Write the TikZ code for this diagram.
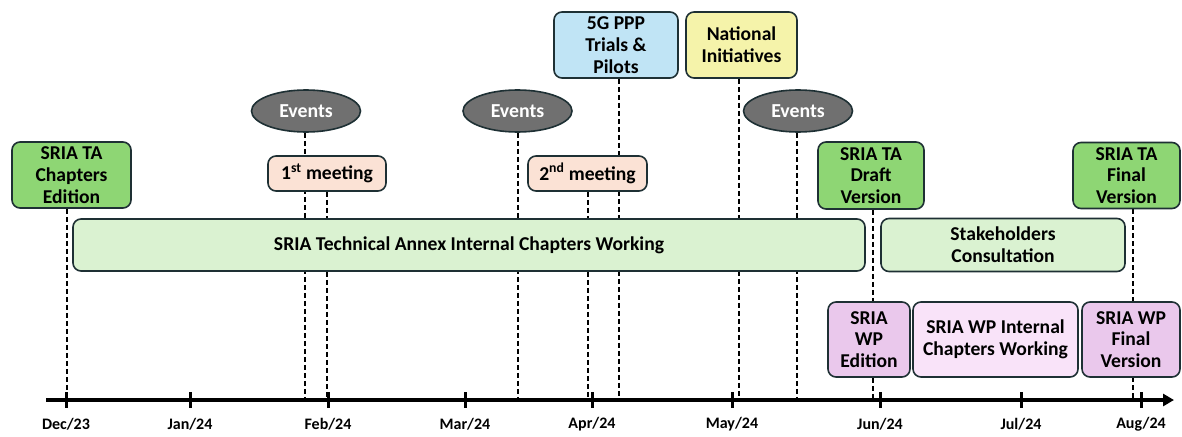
\documentclass[tikz,border=0pt]{standalone}
\usepackage{fontspec}
\setmainfont{Carlito}
\usetikzlibrary{shapes.geometric,backgrounds,arrows.meta}
\definecolor{bordc}{RGB}{30,48,52}
\definecolor{tagreen}{RGB}{142,214,116}
\definecolor{bargreen}{RGB}{218,242,209}
\definecolor{peach}{RGB}{251,226,213}
\definecolor{lblue}{RGB}{192,228,245}
\definecolor{lyellow}{RGB}{245,243,170}
\definecolor{evgray}{RGB}{112,112,112}
\definecolor{pinkd}{RGB}{234,200,236}
\definecolor{pinkl}{RGB}{249,227,249}
\begin{document}
\begin{tikzpicture}[x=1pt,y=-1pt,
  box/.style={draw=bordc, line width=1.6pt, rounded corners=8pt, align=center, inner sep=0pt,
    font=\bfseries\fontsize{19.6}{21.8}\selectfont, text=black},
  evnode/.style={ellipse, draw=bordc, fill=evgray, line width=1.6pt, inner sep=0pt,
    minimum width=109, minimum height=42, font=\bfseries\fontsize{19.8}{22}\selectfont, text=white},
  dline/.style={draw=black, line width=1.4pt, dash pattern=on 5pt off 3pt},
  axisline/.style={line width=3.4pt, -{Triangle[length=11pt,width=12pt]}},
  tickmark/.style={line width=3pt},
  lab/.style={font=\bfseries\fontsize{16}{18}\selectfont, inner sep=0pt}]
\useasboundingbox (0,0) rectangle (1182,436);

% boxes
\node[box, fill=tagreen, minimum width=119, minimum height=66] (ta1) at (71.5,175) {SRIA TA\\Chapters\\Edition};
\node[evnode] (ev1) at (306,111) {Events};
\node[box, fill=peach, minimum width=118, minimum height=35] (m1) at (327,173.5) {1\textsuperscript{st} meeting};
\node[evnode] (ev2) at (517.5,111) {Events};
\node[box, fill=peach, minimum width=119, minimum height=35] (m2) at (587.5,173.5) {2\textsuperscript{nd} meeting};
\node[box, fill=lblue, minimum width=124, minimum height=66] (g5) at (616,45) {5G PPP\\Trials \&\\Pilots};
\node[box, fill=lyellow, minimum width=111, minimum height=66] (ni) at (741.5,45) {National\\Initiatives};
\node[evnode] (ev3) at (798,111) {Events};
\node[box, fill=tagreen, minimum width=106, minimum height=67] (draft) at (871,175.5) {SRIA TA\\Draft\\Version};
\node[box, fill=tagreen, minimum width=107, minimum height=66] (tafin) at (1126.5,175.5) {SRIA TA\\Final\\Version};
\node[box, fill=bargreen, minimum width=792, minimum height=52] (bar) at (469,245) {SRIA Technical Annex Internal Chapters Working};
\node[box, fill=bargreen, minimum width=244, minimum height=53] (stake) at (1003,245) {Stakeholders\\Consultation};
\node[box, fill=pinkd, minimum width=82, minimum height=75] (wped) at (869,339.5) {SRIA\\WP\\Edition};
\node[box, fill=pinkl, minimum width=165, minimum height=75] (wpint) at (995.5,339.5) {SRIA WP Internal\\Chapters Working};
\node[box, fill=pinkd, minimum width=98, minimum height=75] (wpfin) at (1131,339.5) {SRIA WP\\Final\\Version};

% axis
\coordinate (axs) at (46,400);
\coordinate (axe) at (1174,400);
\draw[axisline] (axs) -- (axe);
\foreach \x/\n/\t in {66/dec/Dec\slash 23, 190/jan/Jan\slash 24, 328/feb/Feb\slash 24, 465/mar/Mar\slash 24,
  592/apr/Apr\slash 24, 732/may/May\slash 24, 880/jun/Jun\slash 24, 1021/jul/Jul\slash 24, 1141/aug/Aug\slash 24}{
  \coordinate (t\n) at (\x,400);
  \draw[tickmark] ([yshift=8pt]t\n) -- ([yshift=-8pt]t\n);
  \node[lab] (l\n) at (\x,424) {\t};
}

% dashed connectors (behind boxes)
\coordinate (d1) at (67,398);
\coordinate (d2) at (305,398);
\coordinate (d3) at (327,398);
\coordinate (d4) at (518,398);
\coordinate (d5) at (588,398);
\coordinate (d6) at (619,398);
\coordinate (d7) at (739,398);
\coordinate (d8) at (797,398);
\coordinate (d9) at (873,398);
\coordinate (d10) at (1133,398);
\begin{pgfonlayer}{background}
\draw[dline] (ta1.south -| d1) -- (d1);
\draw[dline] (ev1.south -| d2) -- (d2);
\draw[dline] (m1.south -| d3) -- (d3);
\draw[dline] (ev2.south -| d4) -- (d4);
\draw[dline] (m2.south -| d5) -- (d5);
\draw[dline] (g5.south -| d6) -- (d6);
\draw[dline] (ni.south -| d7) -- (d7);
\draw[dline] (ev3.south -| d8) -- (d8);
\draw[dline] (draft.south -| d9) -- (d9);
\draw[dline] (tafin.south -| d10) -- (d10);
\end{pgfonlayer}
\end{tikzpicture}
\end{document}
